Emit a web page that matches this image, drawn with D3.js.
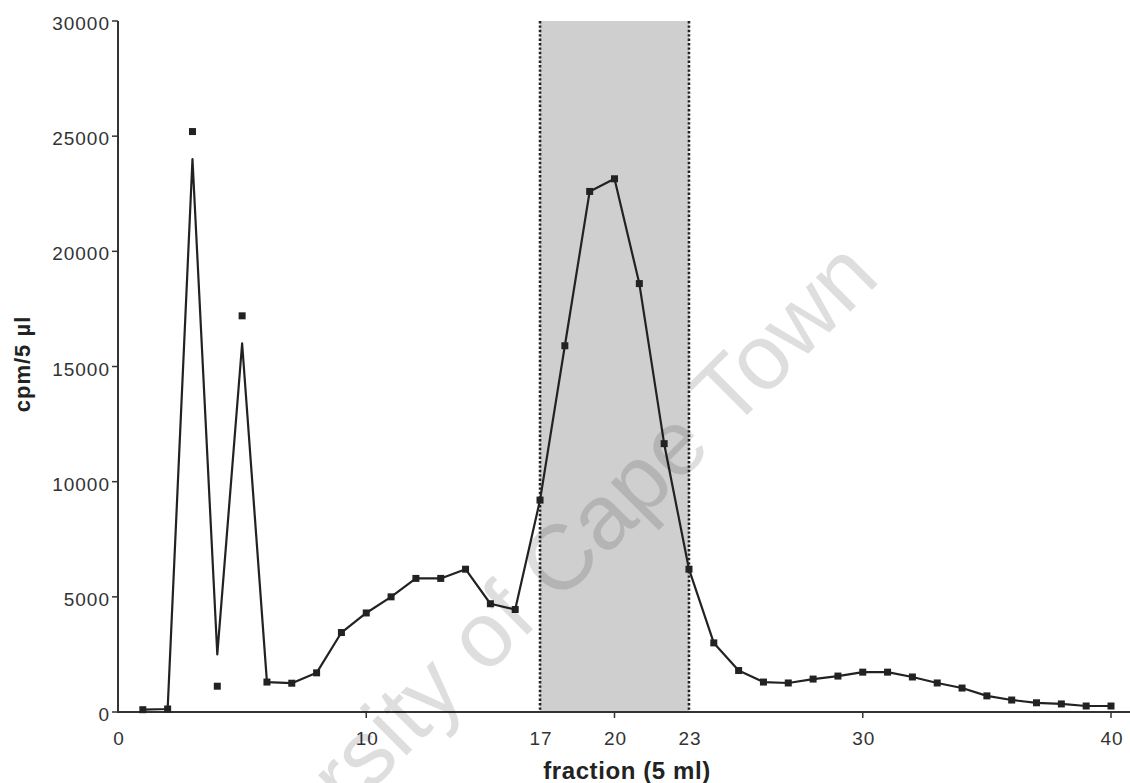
<!DOCTYPE html>
<html lang="en">
<head>
    <meta charset="UTF-8">
    <title>cpm per fraction</title>
    <style>
        body {
            margin: 0;
            background: #fff;
            font-family: 'Liberation Sans', Arial, Helvetica, sans-serif;
        }
        svg {
            display: block;
        }
        .tick-label {
            font-size: 19px;
            fill: #333;
            letter-spacing: 1px;
        }
        .axis-title {
            font-weight: 700;
            fill: #222;
        }
    </style>
</head>
<body>
    <svg width="1130" height="783"></svg>
    <script src="https://d3js.org/d3.v7.min.js"></script>
    <script>
        // Fractions 1..40 and the counts
        const fractions = d3.range(1, 41);
        const lineValues = [
            100, 130, 24000, 2500, 16000, 1300, 1250, 1700, 3450, 4300,
            5000, 5800, 5800, 6200, 4700, 4450, 9200, 15900, 22600, 23150,
            18600, 11650, 6200, 3000, 1800, 1300, 1260, 1430, 1560, 1730,
            1730, 1520, 1260, 1040, 700, 520, 400, 350, 260, 260
        ];
        // the plotted squares sit off the line at fractions 3-5
        const markerValues = [
            100, 130, 25200, 1120, 17200, 1300, 1250, 1700, 3450, 4300,
            5000, 5800, 5800, 6200, 4700, 4450, 9200, 15900, 22600, 23150,
            18600, 11650, 6200, 3000, 1800, 1300, 1260, 1430, 1560, 1730,
            1730, 1520, 1260, 1040, 700, 520, 400, 350, 260, 260
        ];
        const yTicks = [0, 5000, 10000, 15000, 20000, 25000, 30000];
        const xTicks = [0, 10, 17, 20, 23, 30, 40];
        const pooled = [17, 23];

        const svg = d3.select("svg");

        const x = d3.scaleLinear().domain([0, 40]).range([118, 1111]);
        const y = d3.scaleLinear().domain([0, 30000]).range([712, 21]);

        // shaded pooled fractions
        svg.append("rect")
            .attr("x", x(pooled[0]))
            .attr("y", y(30000))
            .attr("width", x(pooled[1]) - x(pooled[0]))
            .attr("height", y(0) - y(30000))
            .attr("fill", "#cfcfcf");

        svg.selectAll(".pool-edge")
            .data(pooled)
            .join("line")
            .attr("class", "pool-edge")
            .attr("x1", d => x(d)).attr("x2", d => x(d))
            .attr("y1", y(30000)).attr("y2", y(0))
            .attr("stroke", "#222")
            .attr("stroke-width", 2.6)
            .attr("stroke-dasharray", "2.4,2");

        // axes
        svg.append("line")
            .attr("x1", x(0)).attr("x2", 1130)
            .attr("y1", y(0)).attr("y2", y(0))
            .attr("stroke", "#333").attr("stroke-width", 2);
        svg.append("line")
            .attr("x1", x(0)).attr("x2", x(0))
            .attr("y1", y(30000)).attr("y2", y(0) + 1)
            .attr("stroke", "#333").attr("stroke-width", 2);

        svg.selectAll(".ytick")
            .data(yTicks)
            .join("line")
            .attr("class", "ytick")
            .attr("x1", x(0) - 6).attr("x2", x(0))
            .attr("y1", d => y(d)).attr("y2", d => y(d))
            .attr("stroke", "#333").attr("stroke-width", 1.5);

        svg.selectAll(".ylabel")
            .data(yTicks)
            .join("text")
            .attr("class", "ylabel tick-label")
            .attr("x", 110)
            .attr("y", d => y(d) + 4)
            .attr("text-anchor", "end")
            .attr("dominant-baseline", "middle")
            .text(d => d);

        svg.selectAll(".xtick")
            .data([10, 20, 30, 40])
            .join("line")
            .attr("class", "xtick")
            .attr("x1", d => x(d)).attr("x2", d => x(d))
            .attr("y1", y(0)).attr("y2", y(0) + 6)
            .attr("stroke", "#333").attr("stroke-width", 1.5);

        svg.selectAll(".xlabel")
            .data(xTicks)
            .join("text")
            .attr("class", "xlabel tick-label")
            .attr("x", d => x(d) + 1)
            .attr("y", 745)
            .attr("text-anchor", "middle")
            .text(d => d);

        // axis titles
        svg.append("text")
            .attr("class", "axis-title")
            .attr("x", 627)
            .attr("y", 779)
            .attr("text-anchor", "middle")
            .style("font-size", "24px")
            .style("letter-spacing", "0.6px")
            .text("fraction (5 ml)");

        svg.append("text")
            .attr("class", "axis-title")
            .attr("transform", "translate(30,364) rotate(-90)")
            .attr("text-anchor", "middle")
            .style("font-size", "22px")
            .style("letter-spacing", "1px")
            .text("cpm/5 \u00b5l");

        // data line and markers
        const lineData = fractions.map((f, i) => [f, lineValues[i]]);
        svg.append("path")
            .datum(lineData)
            .attr("fill", "none")
            .attr("stroke", "#222")
            .attr("stroke-width", 2.2)
            .attr("stroke-linejoin", "round")
            .attr("d", d3.line().x(d => x(d[0])).y(d => y(d[1])));

        svg.selectAll(".marker")
            .data(fractions.map((f, i) => [f, markerValues[i]]))
            .join("rect")
            .attr("class", "marker")
            .attr("x", d => x(d[0]) - 3.5)
            .attr("y", d => y(d[1]) - 3.5)
            .attr("width", 7).attr("height", 7)
            .attr("fill", "#222");

        // repository watermark
        svg.append("text")
            .attr("transform", "translate(882,280) rotate(-45)")
            .attr("text-anchor", "end")
            .style("font-size", "92px")
            .style("fill", "#000")
            .style("fill-opacity", 0.13)
            .text("University of Cape Town");
    </script>
</body>
</html>
